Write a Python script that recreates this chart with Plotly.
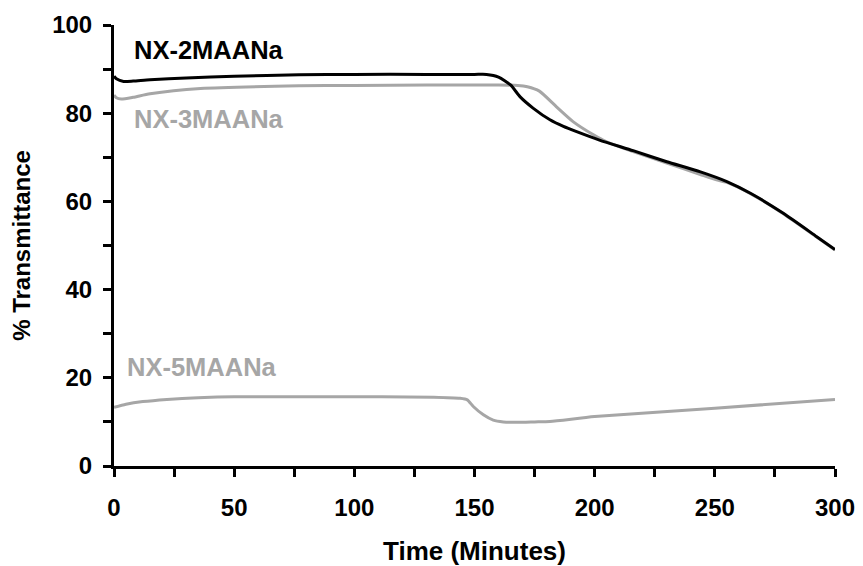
import plotly.graph_objects as go

# NX-2MAANa (black)
t_2 = [0, 1, 4, 8, 15, 30, 50, 77, 100, 130, 150, 155, 160, 165, 169, 174.5, 181.4, 187, 192.5, 202, 216, 230, 244, 255, 265, 278.5, 292.4, 300]
y_2 = [88.4, 87.8, 87.2, 87.3, 87.6, 88.0, 88.4, 88.7, 88.8, 88.8, 88.8, 88.8, 88.2, 86.4, 83.7, 81.1, 78.5, 77.0, 75.8, 73.9, 71.5, 69.0, 66.7, 64.5, 61.8, 57.3, 52.0, 49.1]

# NX-3MAANa (gray)
t_3 = [0, 1, 3, 8, 15, 36, 77, 100, 130, 160, 168, 172, 177, 184, 191, 199.5, 205, 216, 230, 244, 250, 255, 265, 278.5, 292.4, 300]
y_3 = [84.1, 83.5, 83.2, 83.6, 84.4, 85.6, 86.2, 86.3, 86.4, 86.4, 86.3, 86.0, 85.0, 81.5, 78.1, 75.1, 73.5, 71.3, 68.7, 66.1, 65.0, 64.3, 61.7, 57.2, 51.9, 49.0]

# NX-5MAANa (gray)
t_5 = [0, 5, 12, 22, 35, 50, 91, 133, 144, 147, 149.5, 153.7, 157.8, 162, 167.6, 175, 181.4, 200, 250, 300]
y_5 = [13.3, 14.0, 14.6, 15.1, 15.5, 15.7, 15.7, 15.6, 15.35, 15.0, 13.5, 11.6, 10.4, 10.0, 9.9, 10.0, 10.1, 11.2, 13.1, 15.1]

labels = ["NX-2MAANa", "NX-3MAANa", "NX-5MAANa"]
label_x = [7.3, 7.3, 4.6]
label_y = [94.3, 78.7, 22.5]

black = "#000000"
gray = "#a6a6a6"
font_family = "Liberation Sans, Arial, sans-serif"

fig = go.Figure()
fig.add_trace(go.Scatter(x=t_5, y=y_5, mode="lines", name=labels[2],
                         line=dict(color=gray, width=3, shape="spline", smoothing=0.6)))
fig.add_trace(go.Scatter(x=t_3, y=y_3, mode="lines", name=labels[1],
                         line=dict(color=gray, width=3, shape="spline", smoothing=0.6)))
fig.add_trace(go.Scatter(x=t_2, y=y_2, mode="lines", name=labels[0],
                         line=dict(color=black, width=3, shape="spline", smoothing=0.6)))

label_colors = [black, gray, gray]
for txt, lx, ly, c in zip(labels, label_x, label_y, label_colors):
    fig.add_annotation(x=lx, y=ly, text="<b>%s</b>" % txt, showarrow=False,
                       xanchor="left", yanchor="middle",
                       font=dict(family=font_family, size=25.5, color=c))

axis_common = dict(
    showline=True, linecolor="black", linewidth=3, mirror=False,
    showgrid=False, zeroline=False, automargin=False,
    ticks="outside", ticklen=8, tickwidth=3, tickcolor="black",
    tickfont=dict(family=font_family, size=24, color="black", weight="bold"),
)

fig.update_xaxes(range=[0, 300], tickvals=[0, 50, 100, 150, 200, 250, 300],
                 minor=dict(tickvals=[25, 75, 125, 175, 225, 275], ticks="outside",
                            ticklen=8, tickwidth=3, tickcolor="black"),
                 ticklabelstandoff=10,
                 title=dict(text="<b>Time (Minutes)</b>", standoff=32,
                            font=dict(family=font_family, size=26, color="black")),
                 **axis_common)
fig.update_yaxes(range=[0, 100], tickvals=[0, 20, 40, 60, 80, 100],
                 minor=dict(tickvals=[10, 30, 50, 70, 90], ticks="outside",
                            ticklen=8, tickwidth=3, tickcolor="black"),
                 ticklabelstandoff=6,
                 title=dict(text="<b>% Transmittance</b>", standoff=16,
                            font=dict(family=font_family, size=24, color="black")),
                 **axis_common)

# The page body adds an 8px offset, so the figure is sized to the visible area.
fig.update_layout(
    width=855, height=558,
    margin=dict(l=106, r=28, t=17, b=100, pad=0),
    plot_bgcolor="white", paper_bgcolor="white",
    showlegend=False,
)

fig.write_html("out.html")
